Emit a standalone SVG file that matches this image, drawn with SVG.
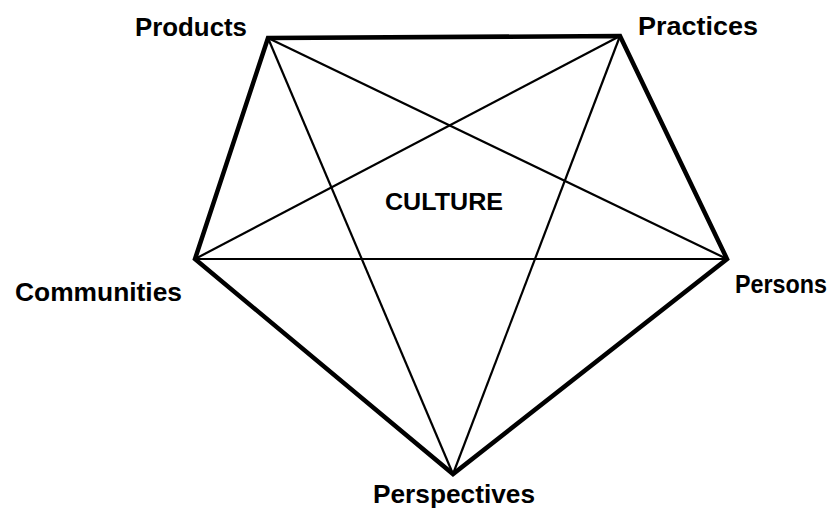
<svg xmlns="http://www.w3.org/2000/svg" width="838" height="510" viewBox="0 0 838 510">
<style>
.outer{fill:none;stroke:#000;stroke-width:4.5;stroke-linejoin:miter}
.diag{stroke:#000;stroke-width:2.2;fill:none}
.lbl{font-family:"Liberation Sans",Arial,sans-serif;font-weight:bold;font-size:25px;fill:#000}
.center{font-family:"Liberation Sans",Arial,sans-serif;font-weight:bold;font-size:23px;fill:#000}
</style>
<rect width="838" height="510" fill="#fff"/>
<g id="connectors">
<polygon class="outer" points="268,38 620,36 727,259 453,474 195,259"/>
<line class="diag" x1="268" y1="38" x2="727" y2="259"/>
<line class="diag" x1="268" y1="38" x2="453" y2="474"/>
<line class="diag" x1="620" y1="36" x2="195" y2="259"/>
<line class="diag" x1="620" y1="36" x2="453" y2="474"/>
<line class="diag" x1="195" y1="259" x2="727" y2="259"/>
</g>
<g id="products"><text class="lbl" x="135" y="36" textLength="112" lengthAdjust="spacingAndGlyphs">Products</text></g>
<g id="practices"><text class="lbl" x="638" y="35" textLength="120" lengthAdjust="spacingAndGlyphs">Practices</text></g>
<g id="communities"><text class="lbl" x="15" y="301" textLength="167" lengthAdjust="spacingAndGlyphs">Communities</text></g>
<g id="persons"><text class="lbl" x="735" y="293" textLength="92" lengthAdjust="spacingAndGlyphs">Persons</text></g>
<g id="perspectives"><text class="lbl" x="373" y="503" textLength="162" lengthAdjust="spacingAndGlyphs">Perspectives</text></g>
<g id="culture"><text class="center" x="385" y="210" textLength="118" lengthAdjust="spacingAndGlyphs">CULTURE</text></g>
</svg>
